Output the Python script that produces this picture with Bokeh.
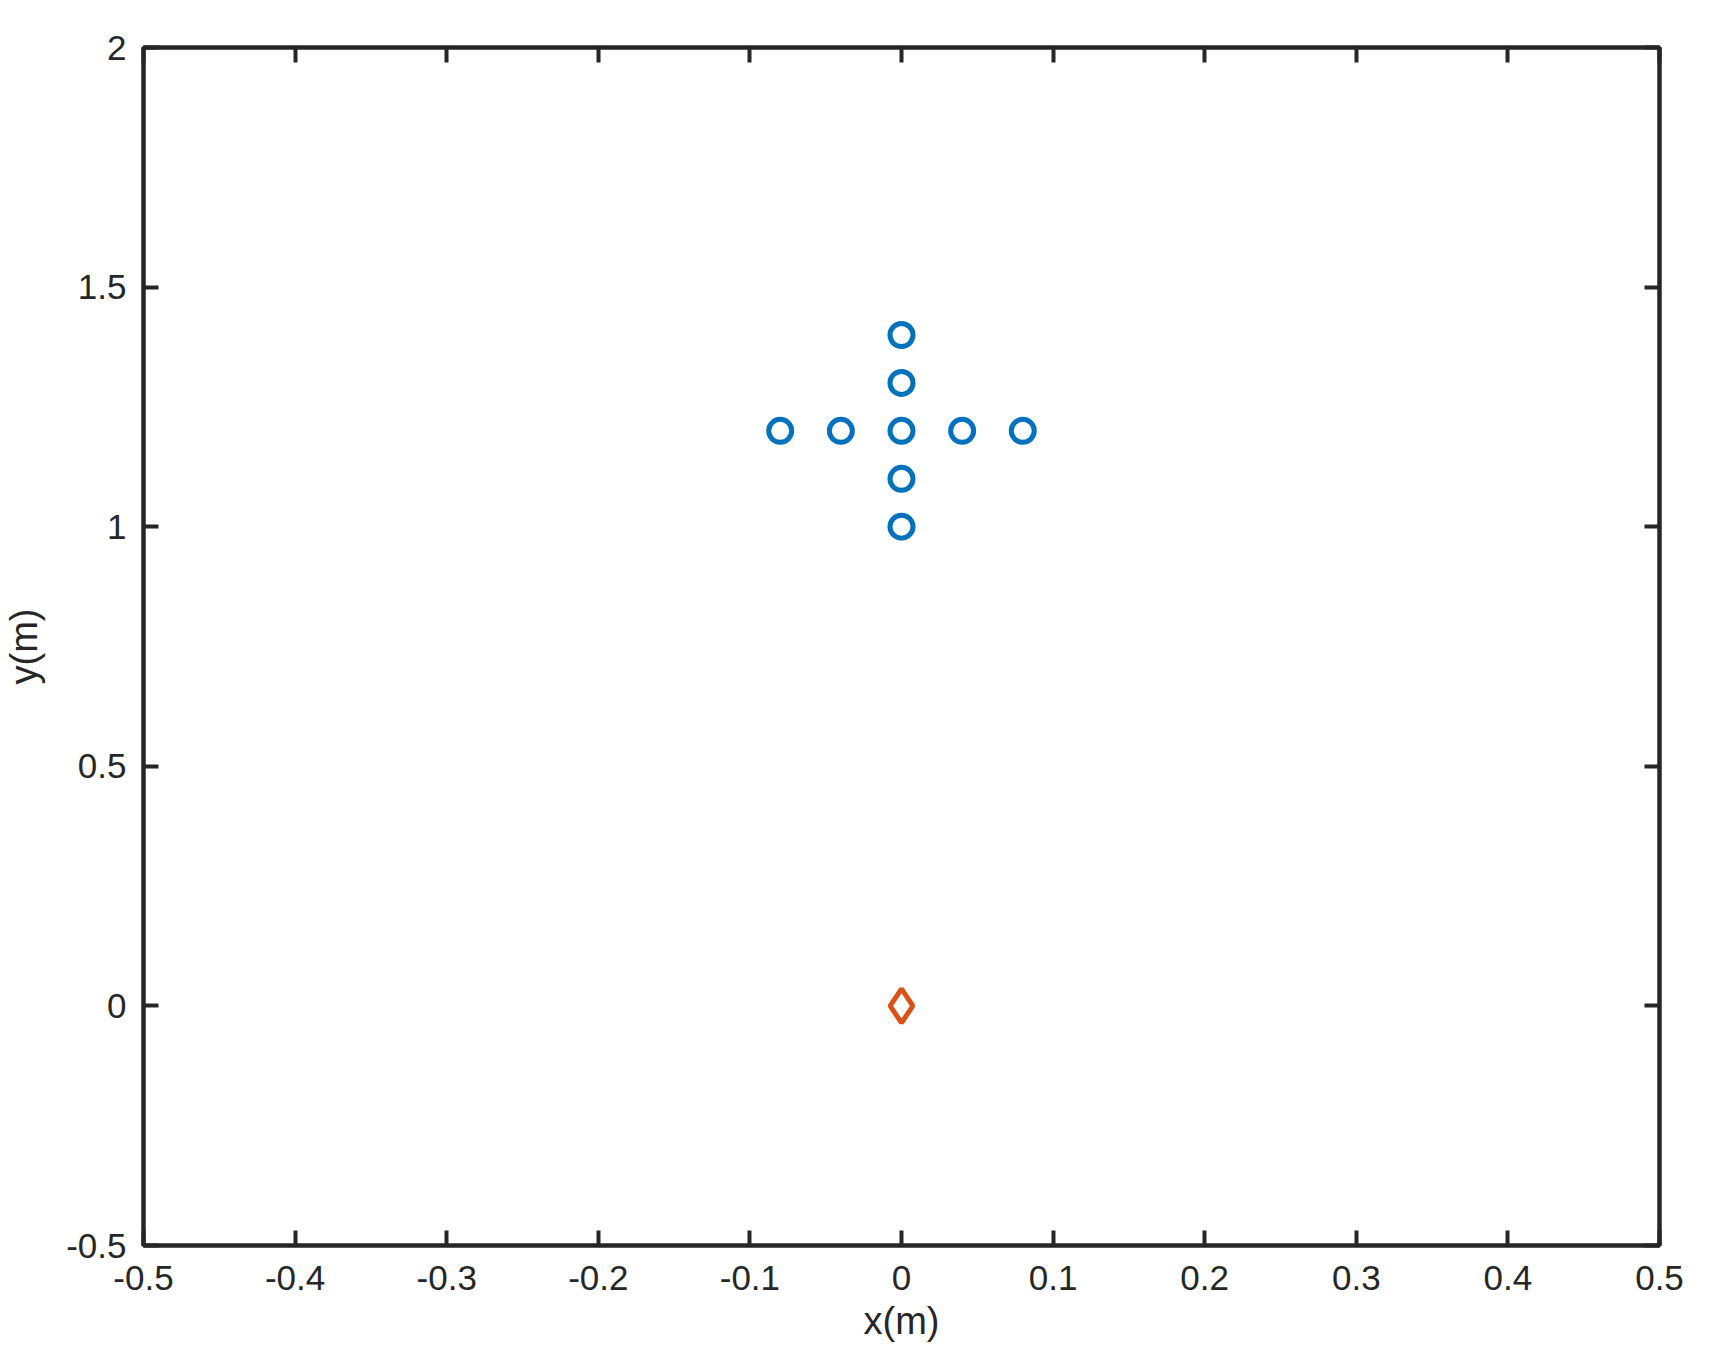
from bokeh.plotting import figure
from bokeh.models import LinearAxis, FixedTicker, Range1d, CustomJSTickFormatter
from bokeh.embed import file_html
from bokeh.resources import INLINE

# Data
mic_x = [-0.08, -0.04, 0.0, 0.04, 0.08, 0.0, 0.0, 0.0, 0.0]
mic_y = [1.2, 1.2, 1.2, 1.2, 1.2, 1.0, 1.1, 1.3, 1.4]
src_x = [0.0]
src_y = [0.0]
x_ticks = [-0.5, -0.4, -0.3, -0.2, -0.1, 0, 0.1, 0.2, 0.3, 0.4, 0.5]
y_ticks = [-0.5, 0, 0.5, 1, 1.5, 2]

W, H = 1694, 1344
p = figure(width=W, height=H, output_backend="svg", toolbar_location=None,
           x_range=Range1d(-0.5, 0.5), y_range=Range1d(-0.5, 2.0),
           min_border_left=134, min_border_right=35, min_border_top=47, min_border_bottom=99,
           x_axis_label="x(m)", y_axis_label="y(m)")
p.xgrid.visible = False
p.ygrid.visible = False
p.background_fill_color = "white"
p.border_fill_color = "white"
p.outline_line_color = "#262626"
p.outline_line_width = 4

ax_col = "#262626"
font = "Liberation Sans"

p.xaxis.ticker = FixedTicker(ticks=x_ticks)
p.yaxis.ticker = FixedTicker(ticks=y_ticks)
p.xaxis.major_label_overrides = {-0.5: "-0.5", -0.4: "-0.4", -0.3: "-0.3", -0.2: "-0.2", -0.1: "-0.1",
                                 0: "0", 0.1: "0.1", 0.2: "0.2", 0.3: "0.3", 0.4: "0.4", 0.5: "0.5"}
p.yaxis.major_label_overrides = {-0.5: "-0.5", 0: "0", 0.5: "0.5", 1: "1", 1.5: "1.5", 2: "2"}

for ax in [p.xaxis[0], p.yaxis[0]]:
    ax.axis_line_color = ax_col
    ax.axis_line_width = 4
    ax.major_tick_in = 15
    ax.major_tick_out = 0
    ax.major_tick_line_color = ax_col
    ax.major_tick_line_width = 4
    ax.minor_tick_line_color = None
    ax.major_label_text_font = font
    ax.major_label_text_font_size = "35px"
    ax.major_label_text_color = ax_col
    ax.axis_label_text_font = font
    ax.axis_label_text_font_size = "38px"
    ax.axis_label_text_font_style = "normal"
    ax.axis_label_text_color = ax_col

p.xaxis[0].major_label_standoff = 20
p.yaxis[0].major_label_standoff = 17
p.xaxis[0].axis_label_standoff = 7
p.yaxis[0].axis_label_standoff = 18

blank = CustomJSTickFormatter(code="return ''")
# mirrored ticks on top and right
top = LinearAxis(ticker=FixedTicker(ticks=x_ticks), formatter=blank,
                 major_tick_in=15, major_tick_out=0, major_tick_line_width=4,
                 major_tick_line_color=ax_col, axis_line_color=ax_col, axis_line_width=4,
                 minor_tick_line_color=None, major_label_standoff=0,
                 major_label_text_font_size="10px")
right = LinearAxis(ticker=FixedTicker(ticks=y_ticks), formatter=blank,
                   major_tick_in=15, major_tick_out=0, major_tick_line_width=4,
                   major_tick_line_color=ax_col, axis_line_color=ax_col, axis_line_width=4,
                   minor_tick_line_color=None, major_label_standoff=0,
                   major_label_text_font_size="10px")
p.add_layout(top, "above")
p.add_layout(right, "right")

p.scatter(mic_x, mic_y, marker="circle", size=23, fill_color=None,
          line_color="#0072BD", line_width=5)
p.scatter(src_x, src_y, marker="diamond", size=34, fill_color=None,
          line_color="#D95319", line_width=5)

open("out.html", "w").write(file_html(p, INLINE))
